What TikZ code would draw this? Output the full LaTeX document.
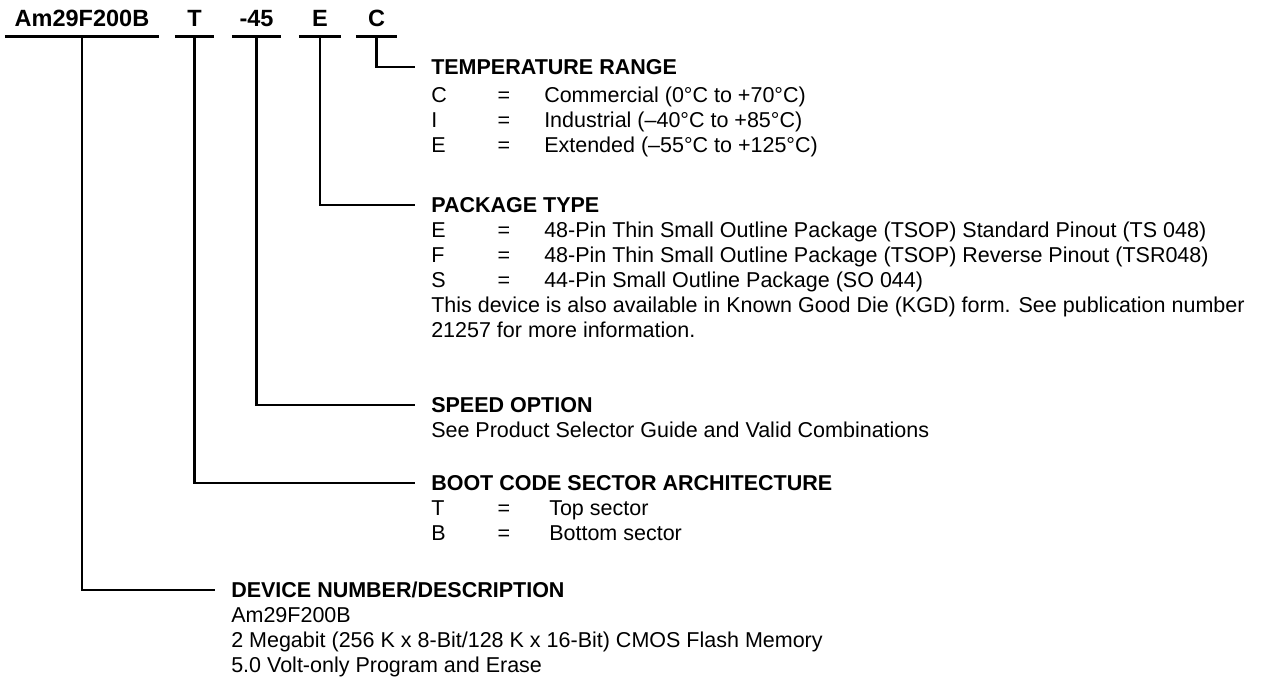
\documentclass[tikz,border=0pt]{standalone}
\usepackage{fontspec}
\setmainfont{Liberation Sans}
\usepackage{tikz}

\begin{document}
\begin{tikzpicture}[x=1pt,y=-1pt,line width=2.5pt,
	part/.style={font=\fontsize{23.5}{28}\selectfont\bfseries,anchor=base,inner xsep=0pt,inner ysep=8pt,text depth=0pt},
	head/.style={font=\fontsize{21.5}{25}\selectfont\bfseries,anchor=west,inner xsep=15pt,inner ysep=0pt,text height=15.5pt,text depth=0pt},
	entry/.style={font=\fontsize{21.5}{25}\selectfont,anchor=base west,inner sep=0pt},
	eq/.style={font=\fontsize{21.5}{25}\selectfont,anchor=base,inner sep=0pt}]
	\useasboundingbox (0,0) rectangle (1263,688);

	\node[part,minimum width=152pt] (PN) at (82,27) {Am29F200B};
	\node[part,minimum width=37pt] (BC) at (194.5,27) {T};
	\node[part,minimum width=47pt] (SO) at (256.5,27) {-45};
	\node[part,minimum width=40pt] (PT) at (320,27) {E};
	\node[part,minimum width=39pt] (TR) at (376.5,27) {C};
	\draw (PN.south west) -- (PN.south east);
	\draw (BC.south west) -- (BC.south east);
	\draw (SO.south west) -- (SO.south east);
	\draw (PT.south west) -- (PT.south east);
	\draw (TR.south west) -- (TR.south east);

	\node[head] (TRlabel) at (415,67) {TEMPERATURE RANGE};
	\node[entry] (TRc) at (430,102.5) {C};
	\node[eq] at (504,102.5) {=};
	\node[entry] at (543,102.5) {Commercial (0°C to +70°C)};
	\node[entry] (TRi) at (430,127.5) {I};
	\node[eq] at (504,127.5) {=};
	\node[entry] at (543,127.5) {Industrial (–40°C to +85°C)};
	\node[entry] (TRe) at (430,152.5) {E};
	\node[eq] at (504,152.5) {=};
	\node[entry] at (543,152.5) {Extended (–55°C to +125°C)};

	\node[head] (PTlabel) at (415,205) {PACKAGE TYPE};
	\node[entry] (PTe) at (430,237.5) {E};
	\node[eq] at (504,237.5) {=};
	\node[entry] at (543,237.5) {48-Pin Thin Small Outline Package (TSOP) Standard Pinout (TS 048)};
	\node[entry] (PTf) at (430,262.5) {F};
	\node[eq] at (504,262.5) {=};
	\node[entry] at (543,262.5) {48-Pin Thin Small Outline Package (TSOP) Reverse Pinout (TSR048)};
	\node[entry] (PTs) at (430,287.5) {S};
	\node[eq] at (504,287.5) {=};
	\node[entry] at (543,287.5) {44-Pin Small Outline Package (SO 044)};
	\node[entry] (PTnote) at (430,312.5) {This device is also available in Known Good Die (KGD) form. See publication number};
	\node[entry] at (430,337.5) {21257 for more information.};

	\node[head] (SOlabel) at (415,405) {SPEED OPTION};
	\node[entry] (SOnote) at (430,437.5) {See Product Selector Guide and Valid Combinations};

	\node[head] (BClabel) at (415,483) {BOOT CODE SECTOR ARCHITECTURE};
	\node[entry] (BCt) at (430,515.5) {T};
	\node[eq] at (504,515.5) {=};
	\node[entry] at (548,515.5) {Top sector};
	\node[entry] (BCb) at (430,540.5) {B};
	\node[eq] at (504,540.5) {=};
	\node[entry] at (548,540.5) {Bottom sector};

	\node[head] (PNlabel) at (215,590) {DEVICE NUMBER/DESCRIPTION};
	\node[entry] (PNname) at (230,622.5) {Am29F200B};
	\node[entry] (PNsize) at (230,647.5) {2 Megabit (256 K x 8-Bit/128 K x 16-Bit) CMOS Flash Memory};
	\node[entry] (PNvolt) at (230,672.5) {5.0 Volt-only Program and Erase};

	\draw (TR.south) |- (TRlabel.west);
	\draw (PT.south) |- (PTlabel.west);
	\draw (SO.south) |- (SOlabel.west);
	\draw (BC.south) |- (BClabel.west);
	\draw (PN.south) |- (PNlabel.west);
\end{tikzpicture}
\end{document}
